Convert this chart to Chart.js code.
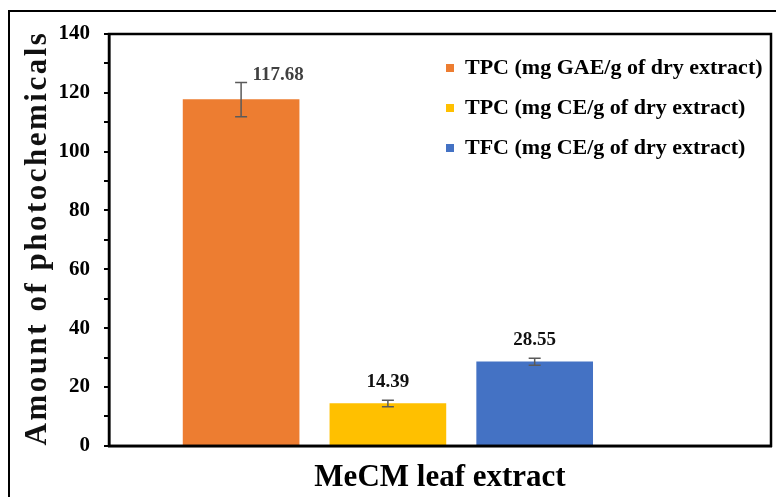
<!DOCTYPE html>
<html>
<head>
<meta charset="utf-8">
<script src="https://cdn.jsdelivr.net/npm/chart.js@4.4.1/dist/chart.umd.min.js"></script>
<style>
  body { margin: 0; background: #fff; }
  #wrap { width: 776px; height: 497px; }
</style>
</head>
<body>
<div id="wrap"><canvas id="grafico" width="776" height="497"></canvas></div>
<script>
const categoria = 'MeCM leaf extract';
const yTitulo = 'Amount of photochemicals';
const series = ['TPC (mg GAE/g of dry extract)', 'TPC (mg CE/g of dry extract)', 'TFC (mg CE/g of dry extract)'];
const valores = [117.68, 14.39, 28.55];
const errores = [5.8, 1.1, 1.2];
const yTicks = [0, 20, 40, 60, 80, 100, 120, 140];

const colores = ['#ED7D31', '#FFC000', '#4472C4'];
const serif = '"Liberation Serif", "Times New Roman", serif';

// marco, barras de error, etiquetas y titulo vertical
const extras = {
  id: 'extras',
  afterLayout(chart) {
    const lg = chart.legend;
    lg.left = 428;
    lg.top = 39;
    lg.right = lg.left + lg.width;
    lg.bottom = lg.top + lg.height;
  },
  beforeDraw(chart) {
    const ctx = chart.ctx;
    ctx.save();
    ctx.fillStyle = '#fff';
    ctx.fillRect(0, 0, chart.width, chart.height);
    ctx.strokeStyle = '#000';
    ctx.lineWidth = 2;
    ctx.beginPath();
    ctx.moveTo(9, chart.height);
    ctx.lineTo(9, 11);
    ctx.lineTo(chart.width, 11);
    ctx.stroke();
    ctx.restore();
  },
  afterDatasetsDraw(chart) {
    const ctx = chart.ctx;
    const y = chart.scales.y;
    ctx.save();
    valores.forEach((v, i) => {
      const bar = chart.getDatasetMeta(i).data[0];
      const arriba = y.getPixelForValue(v + errores[i]);
      const abajo = y.getPixelForValue(v - errores[i]);
      ctx.strokeStyle = '#5a5a5a';
      ctx.lineWidth = 1.5;
      ctx.beginPath();
      ctx.moveTo(bar.x, arriba); ctx.lineTo(bar.x, abajo);
      ctx.moveTo(bar.x - 6, arriba); ctx.lineTo(bar.x + 6, arriba);
      ctx.moveTo(bar.x - 6, abajo); ctx.lineTo(bar.x + 6, abajo);
      ctx.stroke();

      ctx.font = 'bold 19px ' + serif;
      ctx.textAlign = 'center';
      ctx.textBaseline = 'middle';
      if (i === 0) {
        ctx.fillStyle = '#404040';
        ctx.fillText(v.toFixed(2), bar.x + 37, arriba - 7);
      } else {
        ctx.fillStyle = '#111';
        ctx.fillText(v.toFixed(2), bar.x, arriba - 18);
      }
    });
    ctx.restore();
  },
  afterDraw(chart) {
    const ctx = chart.ctx;
    const a = chart.chartArea;
    ctx.save();
    ctx.strokeStyle = '#000';
    ctx.lineWidth = 2.5;
    ctx.strokeRect(a.left, a.top, a.right - a.left, a.bottom - a.top);

    ctx.translate(46, 238);
    ctx.rotate(-Math.PI / 2);
    ctx.font = 'bold 31px ' + serif;
    ctx.letterSpacing = '2.5px';
    ctx.fillStyle = '#111';
    ctx.textAlign = 'center';
    ctx.textBaseline = 'alphabetic';
    ctx.fillText(yTitulo, 0, 0);
    ctx.restore();
  }
};

const datasets = series.map((s, i) => ({
  label: s,
  data: [{ x: i + 1, y: valores[i] }],
  backgroundColor: colores[i],
  borderWidth: 0,
  grouped: false,
  barThickness: 116
}));

new Chart(document.getElementById('grafico'), {
  type: 'bar',
  data: { datasets },
  options: {
    responsive: false,
    animation: false,
    layout: { padding: { left: 0, right: 5, top: 34, bottom: 0 } },
    plugins: {
      tooltip: { enabled: false },
      legend: {
        position: 'chartArea',
        align: 'start',
        labels: {
          boxWidth: 8,
          boxHeight: 8,
          padding: 18,
          color: '#000',
          font: { family: serif, size: 22, weight: 'bold' }
        }
      }
    },
    scales: {
      x: {
        type: 'linear',
        min: 0.1,
        max: 4.61,
        offset: false,
        grid: { display: false, drawTicks: false },
        ticks: { display: false },
        border: { display: true, color: '#000', width: 2.5 },
        title: {
          display: true,
          text: categoria,
          color: '#000',
          padding: { top: 14, bottom: 0 },
          font: { family: serif, size: 31, weight: 'bold' }
        }
      },
      y: {
        min: yTicks[0],
        max: yTicks[yTicks.length - 1],
        afterFit: (axis) => { axis.width = 109; },
        ticks: {
          stepSize: 10,
          padding: 14,
          color: '#000',
          font: { family: serif, size: 21, weight: 'bold' },
          callback: (v) => yTicks.includes(v) ? v : ''
        },
        grid: { drawOnChartArea: false, tickLength: 5, color: '#000', lineWidth: 2 },
        border: { display: true, color: '#000', width: 2.5 }
      }
    }
  },
  plugins: [extras]
});
</script>
</body>
</html>
